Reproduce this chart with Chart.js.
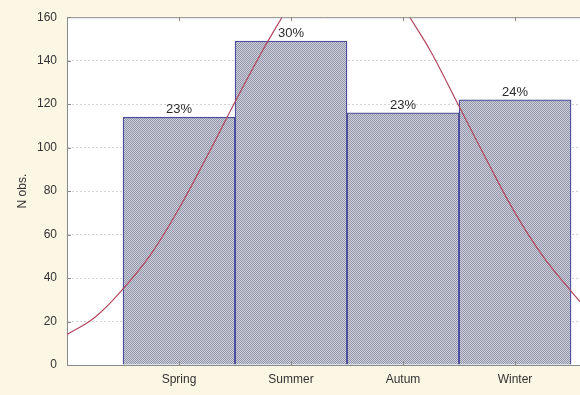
<!DOCTYPE html>
<html>
<head>
<meta charset="utf-8">
<script src="https://cdn.jsdelivr.net/npm/chart.js@4/dist/chart.umd.min.js"></script>
<style>
  html, body { margin: 0; padding: 0; background: #fcf6e4; overflow: hidden; }
  #wrap { width: 580px; height: 395px; position: relative; }
</style>
</head>
<body>
<div id="wrap"><canvas id="c" width="580" height="395"></canvas></div>
<script>
// Observations per season
const categories = ['Spring', 'Summer', 'Autum', 'Winter'];
const catPositions = [1, 2, 3, 4];
const counts = [114, 149, 116, 122];
const yTicks = [0, 20, 40, 60, 80, 100, 120, 140, 160];

// Fitted normal curve, read along the x axis (leaves the frame at the top)
const curveLeftX = [0, 0.25, 0.5, 0.75, 1, 1.25, 1.5, 1.75, 1.92];
const curveLeftY = [14, 22, 35, 51, 72, 96, 121, 145, 160];
const curveRightX = [3.06, 3.25, 3.5, 3.75, 4, 4.25, 4.5, 4.6];
const curveRightY = [160, 144, 119, 94, 70, 50, 34, 28];

const total = counts.reduce((a, b) => a + b, 0);
const percents = counts.map(v => Math.round(v / total * 100) + '%');

// fine dotted fill used in the bars
function makePattern() {
  const p = document.createElement('canvas');
  p.width = 2; p.height = 2;
  const g = p.getContext('2d');
  g.fillStyle = '#caccd8'; g.fillRect(0, 0, 2, 2);
  g.fillStyle = '#9698ae'; g.fillRect(0, 0, 1, 1); g.fillRect(1, 1, 1, 1);
  return g.createPattern(p, 'repeat');
}

const FONT = 'Liberation Sans, Arial, sans-serif';

const framePlugin = {
  id: 'frame',
  beforeDraw(chart) {
    const { ctx, chartArea: a } = chart;
    ctx.save();
    ctx.fillStyle = '#ffffff';
    ctx.fillRect(a.left, a.top, a.right - a.left, a.bottom - a.top);
    ctx.restore();
  },
  afterDraw(chart) {
    const { ctx, chartArea: a, scales } = chart;
    const xs = scales.x, ys = scales.y;
    ctx.save();
    ctx.strokeStyle = '#8a8a8a';
    ctx.lineWidth = 1;
    // top frame line
    ctx.beginPath();
    ctx.moveTo(a.left, a.top + 0.5);
    ctx.lineTo(a.right, a.top + 0.5);
    ctx.stroke();
    // inward tick marks
    ctx.beginPath();
    yTicks.forEach(v => {
      const y = Math.round(ys.getPixelForValue(v)) + 0.5;
      ctx.moveTo(a.left, y); ctx.lineTo(a.left + 4, y);
    });
    catPositions.forEach(v => {
      const x = Math.round(xs.getPixelForValue(v)) + 0.5;
      ctx.moveTo(x, a.bottom); ctx.lineTo(x, a.bottom - 4);
      ctx.moveTo(x, a.top); ctx.lineTo(x, a.top + 4);
    });
    ctx.stroke();
    // percentage labels above the bars
    ctx.fillStyle = '#2a2a2a';
    ctx.font = '13px ' + FONT;
    ctx.textAlign = 'center';
    ctx.textBaseline = 'bottom';
    const meta = chart.getDatasetMeta(0);
    meta.data.forEach((bar, i) => {
      ctx.fillText(percents[i], bar.x, bar.y - 1);
    });
    ctx.restore();
  }
};

const ctx = document.getElementById('c').getContext('2d');
new Chart(ctx, {
  type: 'bar',
  data: {
    datasets: [
      {
        type: 'bar',
        data: catPositions.map((x, i) => ({ x, y: counts[i] })),
        backgroundColor: makePattern(),
        borderColor: '#4b4d9c',
        borderWidth: 1.3,
        categoryPercentage: 1,
        barPercentage: 1,
        order: 2
      },
      {
        type: 'line',
        data: curveLeftX.map((x, i) => ({ x, y: curveLeftY[i] })),
        borderColor: '#b3475f',
        borderWidth: 1.2,
        pointRadius: 0,
        tension: 0.4,
        fill: false,
        order: 1
      },
      {
        type: 'line',
        data: curveRightX.map((x, i) => ({ x, y: curveRightY[i] })),
        borderColor: '#b3475f',
        borderWidth: 1.2,
        pointRadius: 0,
        tension: 0.4,
        fill: false,
        order: 1
      }
    ]
  },
  options: {
    responsive: false,
    animation: false,
    layout: { padding: { top: 17, right: 0, left: 0, bottom: 0 } },
    plugins: {
      legend: { display: false },
      tooltip: { enabled: false }
    },
    scales: {
      x: {
        type: 'linear',
        min: 0,
        max: 4.58,
        offset: false,
        afterBuildTicks(scale) {
          scale.ticks = catPositions.map(v => ({ value: v }));
        },
        afterFit(scale) { scale.height = 30; },
        ticks: {
          callback: (v) => categories[catPositions.indexOf(v)] || '',
          color: '#333333',
          font: { family: FONT, size: 12 },
          padding: 7,
          maxRotation: 0,
          autoSkip: false
        },
        grid: { display: false, drawTicks: false, offset: false },
        border: { display: true, color: '#8a8a8a', width: 1 }
      },
      y: {
        min: 0,
        max: 160,
        afterBuildTicks(scale) {
          scale.ticks = yTicks.map(v => ({ value: v }));
        },
        afterFit(scale) { scale.width = 67; },
        ticks: {
          color: '#333333',
          font: { family: FONT, size: 12 },
          padding: 10
        },
        grid: {
          drawTicks: false,
          color: (c) => (c.tick && (c.tick.value === 0 || c.tick.value === 160)) ? 'rgba(0,0,0,0)' : '#d2d2d2',
          lineWidth: 1
        },
        border: { display: true, color: '#8a8a8a', width: 1, dash: [2, 2] },
        title: {
          display: true,
          text: 'N obs.',
          color: '#333333',
          font: { family: FONT, size: 12 },
          padding: { top: 15, bottom: 0 }
        }
      }
    }
  },
  plugins: [framePlugin]
});
</script>
</body>
</html>
